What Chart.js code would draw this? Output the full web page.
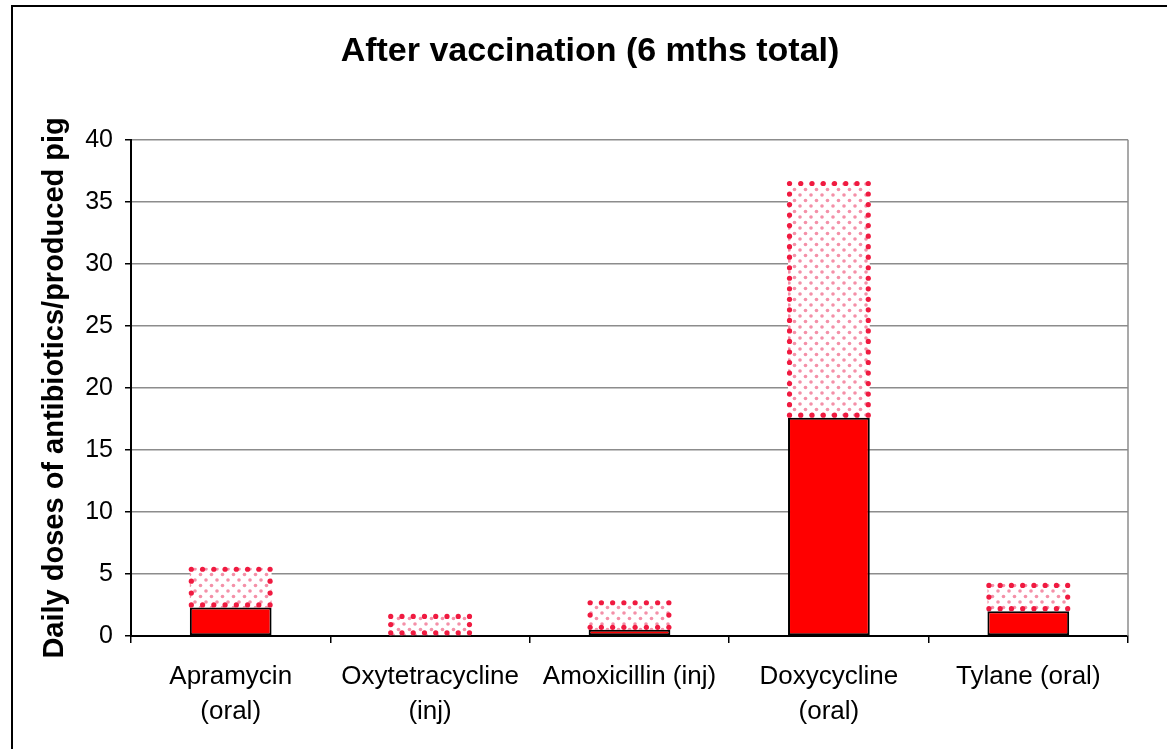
<!DOCTYPE html>
<html>
<head>
<meta charset="utf-8">
<script src="https://cdn.jsdelivr.net/npm/chart.js@4"></script>
<style>
  html, body { margin: 0; padding: 0; background: #fff; overflow: hidden; }
  #wrap { position: relative; width: 1167px; height: 749px; }
  #chart { position: absolute; left: 0; top: 0; }
  .frame { position: absolute; left: 11px; top: 5px; width: 1200px; height: 800px;
           border: 2px solid #000; pointer-events: none; }
</style>
</head>
<body>
<div id="wrap">
  <canvas id="chart" width="1167" height="749"></canvas>
  <div class="frame"></div>
</div>
<script>
// categories (multi-line labels) and the two stacked series
const categories = [
    ["Apramycin", "(oral)"],
    ["Oxytetracycline", "(inj)"],
    "Amoxicillin (inj)",
    ["Doxycycline", "(oral)"],
    "Tylane (oral)"
];
const solidValues = [2.3, 0, 0.5, 17.6, 2.0];
const dottedValues = [3.2, 1.7, 2.3, 19.0, 2.2];
const yMin = 0;
const yMax = 40;
const yStep = 5;

// dotted fill pattern for the upper segment
const makePattern = () => {
    const c = document.createElement("canvas");
    c.width = 11;
    c.height = 11;
    const g = c.getContext("2d");
    g.fillStyle = "#fff";
    g.fillRect(0, 0, 11, 11);
    g.fillStyle = "rgba(236, 70, 110, 0.6)";
    [[2.5, 2.5], [8, 8]].forEach(p => {
        g.beginPath();
        g.arc(p[0], p[1], 1.8, 0, Math.PI * 2);
        g.fill();
    });
    return g.createPattern(c, "repeat");
};

const ctx = document.getElementById("chart").getContext("2d");

// draws the round-dot outline round the patterned bars, and the plot's right edge
const dotBorder = {
    id: "dotBorder",
    afterDatasetsDraw(chart) {
        const g = chart.ctx;
        const area = chart.chartArea;
        g.save();
        g.strokeStyle = "#8c8c8c";
        g.lineWidth = 1.5;
        g.beginPath();
        g.moveTo(area.right, area.top);
        g.lineTo(area.right, area.bottom);
        g.stroke();

        g.fillStyle = "#f01a40";
        const meta = chart.getDatasetMeta(1);
        meta.data.forEach(bar => {
            const p = bar.getProps(["x", "y", "base", "width"], true);
            const left = p.x - p.width / 2 + 1.5;
            const right = p.x + p.width / 2 - 1.5;
            const top = Math.min(p.y, p.base) + 1.5;
            const bottom = Math.max(p.y, p.base) - 2.5;
            const dot = (x, y) => {
                g.beginPath();
                g.arc(x, y, 2.6, 0, Math.PI * 2);
                g.fill();
            };
            const edge = (x1, y1, x2, y2) => {
                const len = Math.hypot(x2 - x1, y2 - y1);
                const n = Math.max(1, Math.round(len / 10.7));
                for (let i = 0; i < n; i++) {
                    dot(x1 + (x2 - x1) * i / n, y1 + (y2 - y1) * i / n);
                }
            };
            edge(left, top, right, top);
            edge(right, top, right, bottom);
            edge(right, bottom, left, bottom);
            edge(left, bottom, left, top);
        });
        g.restore();
    }
};

const chart = new Chart(ctx, {
    type: "bar",
    data: {
        labels: categories,
        datasets: [{
            data: solidValues,
            backgroundColor: "#ff0000",
            borderColor: "#000",
            borderWidth: 2,
            borderSkipped: false,
            barPercentage: 0.41,
            categoryPercentage: 1
        }, {
            data: dottedValues,
            backgroundColor: makePattern(),
            borderWidth: 0,
            barPercentage: 0.41,
            categoryPercentage: 1
        }]
    },
    options: {
        responsive: false,
        animation: false,
        layout: {
            // left padding pushes the centred title over to where it sits in the original
            padding: { left: 52, right: 39, top: 0, bottom: 0 }
        },
        plugins: {
            legend: { display: false },
            tooltip: { enabled: false },
            title: {
                display: true,
                text: "After vaccination (6 mths total)",
                color: "#000",
                font: { family: "'Liberation Sans', Arial, sans-serif", size: 34, weight: "bold" },
                padding: { top: 31, bottom: 68 }
            }
        },
        scales: {
            x: {
                stacked: true,
                afterFit: scale => { scale.height = 113; },
                grid: {
                    offset: true,
                    drawOnChartArea: false,
                    tickColor: "#000",
                    tickLength: 7,
                    lineWidth: 1.5
                },
                border: { color: "#000", width: 2 },
                ticks: {
                    color: "#000",
                    padding: 17,
                    maxRotation: 0,
                    autoSkip: false,
                    font: { family: "'Liberation Sans', Arial, sans-serif", size: 26, lineHeight: 1.33 }
                }
            },
            y: {
                stacked: true,
                min: yMin,
                max: yMax,
                afterFit: scale => { scale.width = 79; },
                grid: {
                    color: "#8c8c8c",
                    lineWidth: 1.5,
                    tickColor: "#000",
                    tickLength: 6
                },
                border: { color: "#000", width: 2 },
                ticks: {
                    stepSize: yStep,
                    color: "#000",
                    padding: 12,
                    font: { family: "'Liberation Sans', Arial, sans-serif", size: 25 }
                },
                title: {
                    display: true,
                    text: "Daily doses of antibiotics/produced pig",
                    color: "#000",
                    padding: { top: -14, bottom: 0 },
                    font: { family: "'Liberation Sans', Arial, sans-serif", size: 29, weight: "bold" }
                }
            }
        }
    },
    plugins: [dotBorder]
});
</script>
</body>
</html>
